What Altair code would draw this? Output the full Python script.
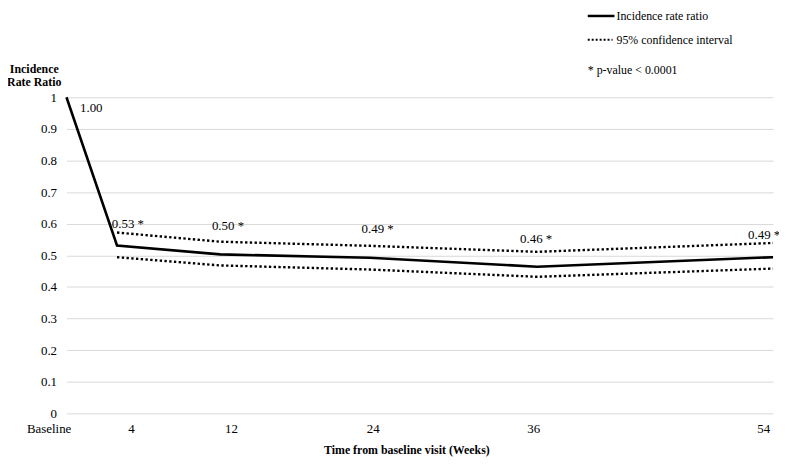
import altair as alt
import pandas as pd

# ---- data ----
weeks = [0, 4, 12, 24, 36, 54]
week_labels = ["Baseline", "4", "12", "24", "36", "54"]
irr = [1.00, 0.531, 0.503, 0.492, 0.464, 0.494]
value_labels = ["1.00", "0.53 *", "0.50 *", "0.49 *", "0.46 *", "0.49 *"]
ci_weeks = [4, 12, 24, 36, 54]
ci_upper = [0.572, 0.543, 0.530, 0.511, 0.539]
ci_lower = [0.494, 0.468, 0.455, 0.432, 0.458]
y_ticks = [0, 0.1, 0.2, 0.3, 0.4, 0.5, 0.6, 0.7, 0.8, 0.9, 1.0]

FONT = "Liberation Serif"
W, H = 713, 319

main = pd.DataFrame({"week": weeks, "irr": irr, "label": value_labels})
ci = pd.DataFrame({
    "week": ci_weeks * 2,
    "value": ci_upper + ci_lower,
    "bound": ["upper"] * len(ci_weeks) + ["lower"] * len(ci_weeks),
})

# uneven spacing of the time points along the axis (piecewise scale)
xscale = alt.Scale(domain=weeks, range=[0, 51, 155, 306, 475, W], nice=False, zero=False)
yscale = alt.Scale(domain=[0, 1], nice=False)

label_shift = {0: -18, 4: 14, 12: 11, 24: 3, 36: -4, 54: -10}
label_expr = " : ".join(
    [f"datum.value == {w} ? '{l}'" for w, l in zip(weeks, week_labels)] + ["datum.label"]
)

x_axis = alt.Axis(
    values=weeks, labelExpr=label_expr, grid=False, domain=False, ticks=False,
    labelPadding=9, labelBaseline="top", labelFont=FONT, labelFontSize=13,
    labelColor="black", labelFlush=False, labelOverlap=False,
    labelOffset={"condition": [{"test": f"datum.value == {k}", "value": v}
                               for k, v in label_shift.items()], "value": 0},
    title="Time from baseline visit (Weeks)", titleFont=FONT, titleFontSize=12,
    titleFontWeight="bold", titleColor="black", titleY=37, titleX=343,
    titleBaseline="middle", titleAlign="center",
)
y_axis = alt.Axis(
    values=y_ticks, tickCount=11, format=".1~f", grid=True, gridColor="#d9d9d9", gridWidth=1,
    domain=False, ticks=False, labelPadding=10, labelFont=FONT, labelFontSize=13,
    labelColor="black", labelOverlap=False, labelFlush=False,
    title=["Incidence", "Rate Ratio"], titleAngle=0, titleX=-33, titleY=-29,
    titleAlign="center", titleBaseline="middle", titleFont=FONT, titleFontSize=12,
    titleFontWeight="bold", titleColor="black", titleLineHeight=13,
)


def X():
    return alt.X("week:Q", scale=xscale, axis=x_axis)


def Y(field):
    return alt.Y(field, scale=yscale, axis=y_axis)


base = alt.Chart(main)

solid = base.mark_line(color="black", strokeWidth=2.6).encode(x=X(), y=Y("irr:Q"))

dotted = alt.Chart(ci).mark_line(color="black", strokeWidth=2.4, strokeDash=[2.4, 2.4]).encode(
    x=X(), y=Y("value:Q"), detail="bound:N",
)

txt = dict(font=FONT, fontSize=13, color="black", baseline="middle")


def value_label(test, dx, dy):
    return base.transform_filter(test).mark_text(dx=dx, dy=dy, **txt).encode(
        x=X(), y=Y("irr:Q"), text="label:N")


lab_start = value_label("datum.week == 0", 25, 11)
lab_4 = value_label("datum.week == 4", 11, -22)
lab_mid = value_label("datum.week == 12 || datum.week == 24", 8, -29)
lab_36 = value_label("datum.week == 36", -1, -28)
lab_end = value_label("datum.week == 54", -9, -22)

# ---- manual legend (top right) ----
one = pd.DataFrame({"k": [0]})
leg_txt = dict(font=FONT, fontSize=12, color="black", baseline="middle", align="left")
leg1_line = alt.Chart(one).mark_rule(color="black", strokeWidth=2.5).encode(
    x=alt.value(526), x2=alt.value(553), y=alt.value(-82))
leg1_text = alt.Chart(one).mark_text(**leg_txt).encode(
    x=alt.value(555), y=alt.value(-82), text=alt.value("Incidence rate ratio"))
leg2_line = alt.Chart(one).mark_rule(color="black", strokeWidth=2, strokeDash=[2, 2]).encode(
    x=alt.value(526), x2=alt.value(551), y=alt.value(-58))
leg2_text = alt.Chart(one).mark_text(**leg_txt).encode(
    x=alt.value(555), y=alt.value(-58), text=alt.value("95% confidence interval"))
leg3_text = alt.Chart(one).mark_text(**leg_txt).encode(
    x=alt.value(526), y=alt.value(-27), text=alt.value("* p-value < 0.0001"))

chart = alt.layer(
    solid, dotted, lab_start, lab_4, lab_mid, lab_36, lab_end,
    leg1_line, leg1_text, leg2_line, leg2_text, leg3_text,
).properties(
    width=W, height=H,
    padding={"left": 59, "top": 88, "right": 6, "bottom": 43},
    autosize=alt.AutoSizeParams(type="none"),
    background="white",
).configure_view(stroke=None).configure_text(font=FONT)

chart.save("out.html", embed_options={"renderer": "svg", "actions": False})
